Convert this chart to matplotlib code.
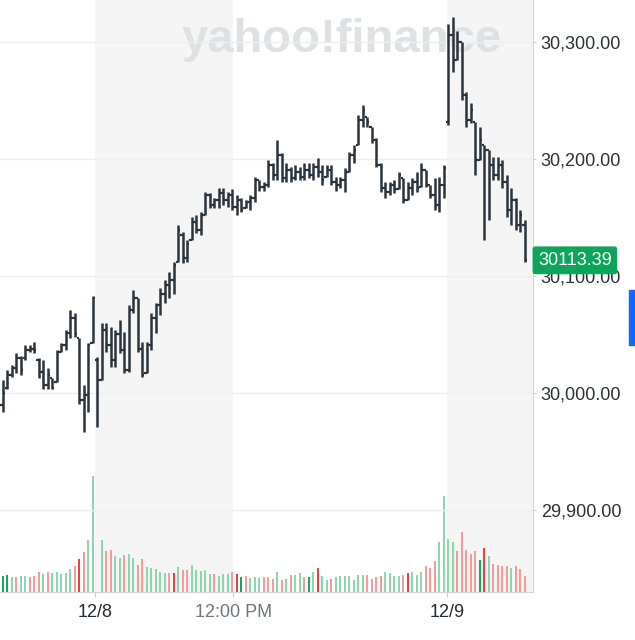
import numpy as np
import matplotlib
matplotlib.use("Agg")
import matplotlib.pyplot as plt
from matplotlib.patches import Rectangle

plt.rcParams['font.family'] = ['Liberation Sans', 'DejaVu Sans']

# ---- data: 5-minute OHLC bars (12/7 afternoon, 12/8 full session, 12/9 morning)
opens = [29990, 30004, 30015, 30021, 30030, 30030, 30037, 30038, 30028, 30018, 30007, 30013, 30009, 30035, 30041, 30051, 30064, 30047, 29994, 29998, 30043,
         30028, 30011, 30054, 30041, 30028, 30050, 30037, 30020, 30071, 30081, 30038, 30017, 30041, 30064, 30075, 30085, 30092, 30097, 30112, 30135,
         30115, 30131, 30146, 30139, 30152, 30169, 30161, 30165, 30171, 30165, 30169, 30159, 30165, 30158, 30163, 30167, 30182, 30176, 30178, 30195,
         30186, 30203, 30184, 30191, 30184, 30189, 30185, 30191, 30186, 30193, 30189, 30185, 30191, 30180, 30178, 30182, 30189, 30203, 30212, 30233,
         30236, 30227, 30216, 30195, 30175, 30172, 30178, 30174, 30184, 30165, 30175, 30180, 30176, 30191, 30178, 30169, 30161, 30178,
         30232, 30306, 30285, 30300, 30255, 30233, 30232, 30199, 30212, 30208, 30195, 30186, 30195, 30180, 30156, 30165, 30144, 30144]
highs = [30011, 30020, 30024, 30034, 30032, 30041, 30041, 30044, 30030, 30028, 30021, 30013, 30037, 30043, 30054, 30071, 30068, 30047, 30007, 30043, 30083,
         30031, 30060, 30060, 30056, 30054, 30062, 30052, 30075, 30088, 30081, 30044, 30044, 30068, 30077, 30090, 30097, 30103, 30112, 30144, 30138,
         30131, 30150, 30152, 30155, 30172, 30171, 30167, 30175, 30175, 30172, 30174, 30169, 30167, 30165, 30169, 30185, 30182, 30180, 30199, 30197,
         30216, 30205, 30197, 30193, 30195, 30193, 30197, 30197, 30197, 30201, 30195, 30195, 30195, 30185, 30185, 30192, 30206, 30212, 30238, 30246,
         30236, 30227, 30218, 30197, 30180, 30180, 30182, 30189, 30184, 30180, 30184, 30189, 30197, 30191, 30178, 30184, 30185, 30195,
         30315, 30321, 30309, 30300, 30257, 30248, 30232, 30227, 30212, 30208, 30202, 30202, 30199, 30186, 30175, 30167, 30156, 30148]
lows = [29984, 30003, 30014, 30017, 30015, 30028, 30035, 30034, 30013, 30003, 30003, 30003, 30009, 30035, 30037, 30047, 30048, 29991, 29967, 29984, 30043,
        29971, 30011, 30035, 30022, 30022, 30034, 30017, 30018, 30068, 30035, 30014, 30017, 30037, 30051, 30067, 30077, 30081, 30085, 30112, 30111,
        30112, 30131, 30137, 30135, 30152, 30158, 30158, 30158, 30161, 30159, 30156, 30152, 30155, 30158, 30156, 30163, 30173, 30173, 30176, 30182,
        30182, 30180, 30180, 30180, 30182, 30182, 30182, 30184, 30182, 30185, 30178, 30185, 30178, 30173, 30175, 30172, 30189, 30197, 30212, 30227,
        30227, 30214, 30193, 30172, 30167, 30169, 30171, 30174, 30162, 30165, 30169, 30172, 30176, 30176, 30167, 30156, 30155, 30167,
        30229, 30274, 30285, 30250, 30227, 30231, 30186, 30199, 30131, 30148, 30182, 30182, 30175, 30150, 30144, 30139, 30138, 30112]
closes = [30000, 30015, 30021, 30030, 30020, 30037, 30038, 30037, 30018, 30007, 30015, 30004, 30035, 30041, 30051, 30064, 30050, 29994, 29998, 30041, 30081,
          30011, 30054, 30041, 30028, 30050, 30037, 30020, 30071, 30081, 30038, 30015, 30041, 30064, 30075, 30085, 30092, 30097, 30109, 30139, 30115,
          30127, 30146, 30139, 30152, 30169, 30161, 30165, 30171, 30165, 30169, 30159, 30165, 30156, 30163, 30167, 30182, 30176, 30178, 30195, 30186,
          30203, 30184, 30191, 30184, 30189, 30185, 30191, 30186, 30193, 30189, 30182, 30191, 30180, 30178, 30182, 30189, 30203, 30208, 30233, 30242,
          30232, 30216, 30195, 30175, 30172, 30178, 30174, 30186, 30165, 30175, 30180, 30175, 30191, 30178, 30169, 30161, 30178, 30192,
          30306, 30285, 30300, 30255, 30233, 30242, 30199, 30216, 30208, 30195, 30186, 30195, 30180, 30156, 30165, 30144, 30152, 30113.39]
volumes = [16.4, 17.4, 15, 15, 16.4, 16.4, 15, 16.4, 20.4, 17.7, 20.4, 19, 20.4, 17.7, 19, 23, 25.7, 32.7, 40, 51.7, 115.7,
           0, 51.7, 41, 42.4, 35.7, 34, 36.7, 38.4, 33.7, 27, 32.7, 25, 24, 23, 20.4, 19, 19, 19, 24.7, 22,
           22, 27, 22, 20.7, 22, 17.7, 17.7, 16.4, 17.7, 17.7, 20.4, 17.7, 15, 16.4, 14.4, 15, 13.7, 15, 15, 13.3,
           20, 11.7, 13.3, 17.3, 17.3, 18.7, 14.7, 14.7, 20, 24.3, 16, 11.7, 13.3, 14.7, 16, 16, 16, 11.7, 17.3, 17.3,
           17.3, 13.3, 14.7, 16, 20, 18.7, 16, 16, 17.3, 18.7, 20, 17.3, 20, 25.7, 24.3, 31, 50, 96,
           52.7, 50, 40.7, 59.7, 42, 38.3, 40.7, 32.3, 44.3, 36.3, 28.3, 27, 25.7, 25.7, 24.3, 25.7, 23, 16]
vol_dir = list("GGgrggrrrgrgggggrRrgg"
               "ggrrggrggrrgggggrRgr"
               "rgggggrgggrRGrgggrrr"
               "grgrggrGgRggrggggggg"
               "rrrrggggrRgggrrrgg"
               "ggrrrrrGRgrrrrgrrr")
tick_pos = [20.5, 51.2, 98.7]
tick_labels = ['12/8', '12:00 PM', '12/9']
price_ticks = [29900, 30000, 30100, 30200, 30300]

x = np.arange(len(closes))
o = np.array(opens, float); h = np.array(highs, float)
l = np.array(lows, float); c = np.array(closes, float)
v = np.array(volumes, float)

fig = plt.figure(figsize=(6.35, 6.4), dpi=100)
rect = [0, 48 / 640, 533 / 635, 592 / 640]
axv = fig.add_axes(rect)
ax = fig.add_axes(rect, sharex=axv)
ax.patch.set_visible(False)
axv.axis('off')

xlim = (-0.6, 117.84)
axv.set_xlim(*xlim)
axv.set_ylim(0, 592)

# session shading
axv.axvspan(tick_pos[0], tick_pos[1], color='#f5f5f5', zorder=0, lw=0)
axv.axvspan(tick_pos[2], xlim[1], color='#f5f5f5', zorder=0, lw=0)

# watermark
axv.text(342 / 533, 1 - 40 / 592, 'yahoo!finance', transform=axv.transAxes,
         ha='center', va='center', fontsize=34, fontweight='bold', color='#dfe1e5', zorder=1)

# volume bars
cmap = {'g': '#8ed6ac', 'G': '#14a85c', 'r': '#f59b9b', 'R': '#f03c44'}
vcols = [cmap[d] for d in vol_dir[:len(v)]]
axv.bar(x, v, width=0.45, color=vcols, zorder=2, lw=0)

# price axis
ax.set_ylim(29829.9, 30335.9)
ax.set_yticks(price_ticks)
ax.set_yticklabels([f"{t:,.2f}" for t in price_ticks])
ax.yaxis.tick_right()
ax.grid(axis='y', color='#eeeeee', lw=1, zorder=0)
ax.grid(axis='x', visible=False)
for s in ['top', 'left']:
    ax.spines[s].set_visible(False)
ax.spines['right'].set_color('#d5d5d5')
ax.spines['bottom'].set_color('#d5d5d5')
ax.tick_params(axis='y', length=2.5, color='#cccccc', labelsize=13, labelcolor='#2b3137', pad=3)
ax.tick_params(axis='x', length=3.6, color='#cccccc', labelsize=13, pad=5)
ax.set_xticks(tick_pos)
ax.set_xticklabels(tick_labels)
for lab, col in zip(ax.get_xticklabels(), ['#232a31', '#6e7780', '#232a31']):
    lab.set_color(col)

bar_col = '#2b333d'
ax.vlines(x, l, h, color=bar_col, lw=1.8, zorder=3)
ax.hlines(o, x - 0.5, x, color=bar_col, lw=1.6, zorder=3)
ax.hlines(c, x, x + 0.5, color=bar_col, lw=1.6, zorder=3)

# last price tag
ax.annotate(f"{c[-1]:.2f}", xy=(1.0, c[-1]), xycoords=('axes fraction', 'data'),
            xytext=(3.6, 0), textcoords='offset points', ha='left', va='center',
            fontsize=13, color='white', annotation_clip=False, zorder=10,
            bbox=dict(boxstyle='round,pad=0.3,rounding_size=0.15', fc='#0ca55a', ec='none'))

# blue side tab
fig.patches.append(Rectangle((629 / 635, (640 - 345) / 640), 6 / 635, 55 / 640,
                             transform=fig.transFigure, color='#1168fb', zorder=5))

fig.savefig('out.png', dpi=100)
